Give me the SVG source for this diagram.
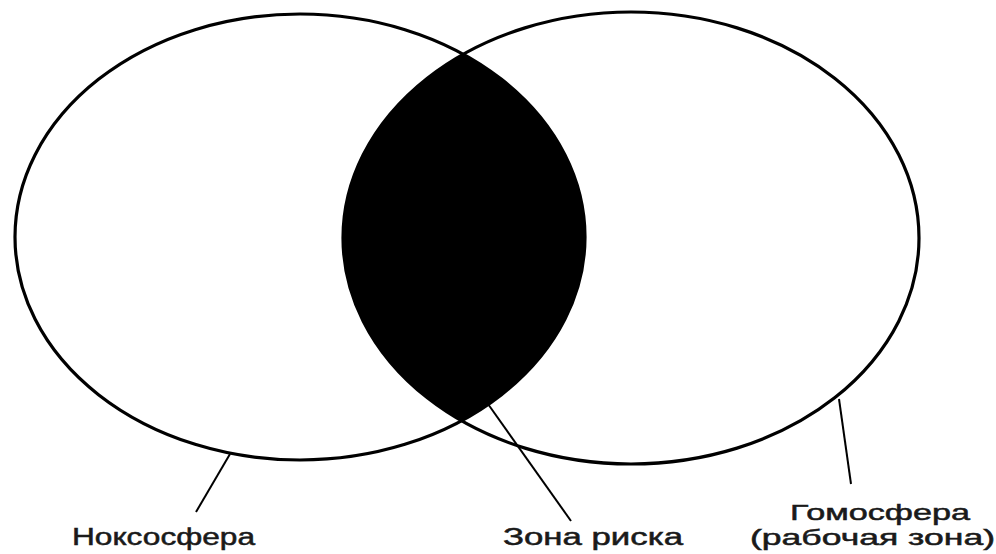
<svg xmlns="http://www.w3.org/2000/svg" width="996" height="554" viewBox="0 0 996 554">
<style>
.ell{fill:none;stroke:#000;stroke-width:3.2}
.lead{stroke:#000;stroke-width:2;fill:none}
.lbl{font-family:"Liberation Sans",Arial,sans-serif;font-size:23px;fill:#1a1a1a;stroke:#1a1a1a;stroke-width:0.5}
.sm{font-size:22px}
</style>
<defs>
<clipPath id="clipLeft"><ellipse cx="300" cy="237" rx="285" ry="223"/></clipPath>
</defs>
<rect width="996" height="554" fill="#fff"/>
<g id="zona-riska">
<ellipse cx="631" cy="238" rx="288" ry="226" fill="#000" clip-path="url(#clipLeft)"/>
<text class="lbl" x="503" y="545" textLength="180" lengthAdjust="spacingAndGlyphs">Зона  риска</text>
</g>
<g id="noksosfera">
<ellipse class="ell" cx="300" cy="237" rx="285" ry="223"/>
<text class="lbl" x="72" y="545" textLength="183" lengthAdjust="spacingAndGlyphs">Ноксосфера</text>
</g>
<g id="gomosfera">
<ellipse class="ell" cx="631" cy="238" rx="288" ry="226"/>
<text class="lbl sm" x="790" y="520" textLength="180" lengthAdjust="spacingAndGlyphs">Гомосфера</text>
<text class="lbl sm" x="750" y="545" textLength="245" lengthAdjust="spacingAndGlyphs">(рабочая  зона)</text>
</g>
<g id="connectors">
<line class="lead" x1="230" y1="454" x2="196" y2="512"/>
<line class="lead" x1="488" y1="404" x2="571" y2="521"/>
<line class="lead" x1="839" y1="399" x2="851" y2="484"/>
</g>
</svg>
